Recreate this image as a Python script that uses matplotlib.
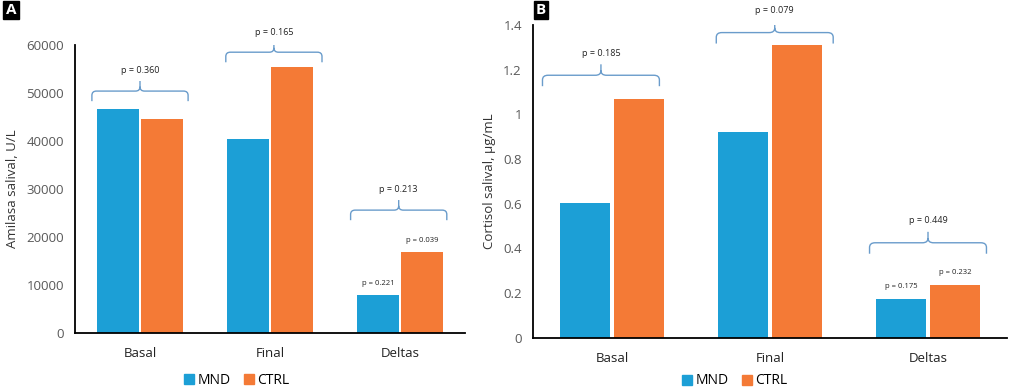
import numpy as np
import matplotlib
matplotlib.use("Agg")
import matplotlib.pyplot as plt
from matplotlib.path import Path
from matplotlib.patches import PathPatch
from matplotlib.lines import Line2D

plt.rcParams['font.family'] = ['Open Sans', 'DejaVu Sans']

# data
categories = ["Basal", "Final", "Deltas"]
series = ["MND", "CTRL"]

amilasa_mnd = [46700, 40500, 7900]
amilasa_ctrl = [44500, 55500, 16800]
amilasa_group_p = ["p = 0.360", "p = 0.165", "p = 0.213"]
amilasa_group_y = [50400, 58500, 25600]
amilasa_delta_p = ["p = 0.221", "p = 0.039"]

cortisol_mnd = [0.605, 0.92, 0.175]
cortisol_ctrl = [1.07, 1.31, 0.235]
cortisol_group_p = ["p = 0.185", "p = 0.079", "p = 0.449"]
cortisol_group_y = [1.175, 1.366, 0.425]
cortisol_delta_p = ["p = 0.175", "p = 0.232"]

blue = "#1c9fd6"
orange = "#f47a36"
brace_col = "#6a9ccb"
grey = "#595959"


def brace(ax, xc, hw, yh, yrange):
    # curly bracket over a group of bars
    dend = 0.035 * yrange
    dtip = 0.035 * yrange
    r = 0.015 * yrange
    rx = 0.035
    x0, x1 = xc - hw, xc + hw
    verts = [(x0, yh - dend), (x0, yh - r), (x0, yh), (x0 + rx, yh),
             (xc - rx, yh), (xc, yh), (xc, yh + r), (xc, yh + dtip),
             (xc, yh + r), (xc, yh), (xc + rx, yh),
             (x1 - rx, yh), (x1, yh), (x1, yh - r), (x1, yh - dend)]
    codes = [Path.MOVETO, Path.LINETO, Path.CURVE3, Path.CURVE3,
             Path.LINETO, Path.CURVE3, Path.CURVE3, Path.LINETO,
             Path.MOVETO, Path.CURVE3, Path.CURVE3,
             Path.LINETO, Path.CURVE3, Path.CURVE3, Path.LINETO]
    ax.add_patch(PathPatch(Path(verts, codes), fill=False, ec=brace_col, lw=1.0))


def panel(ax, mnd, ctrl, ymax, step, ylabel, group_p, group_y, delta_p, fmt, offs):
    x = np.arange(len(categories))
    w = 0.32
    ax.bar(x - w / 2 - 0.01, mnd, w, color=blue)
    ax.bar(x + w / 2 + 0.01, ctrl, w, color=orange)
    ax.set_xlim(-0.5, 2.5)
    ax.set_ylim(0, ymax)
    ticks = np.arange(0, ymax + step / 2, step)
    ax.set_yticks(ticks)
    ax.set_yticklabels([fmt(t) for t in ticks], color=grey, fontsize=9.5)
    ax.set_xticks(x)
    ax.set_xticklabels(categories, fontsize=9.5, color="#222222")
    ax.tick_params(length=0, pad=8)
    ax.tick_params(axis='x', pad=10)
    for s in ["top", "right"]:
        ax.spines[s].set_visible(False)
    ax.spines["left"].set_linewidth(1.3)
    ax.spines["bottom"].set_linewidth(1.3)
    ax.set_ylabel(ylabel, fontsize=9.5, color="#333333", labelpad=5)
    for i in range(3):
        xc = i + offs[i]
        brace(ax, xc, 0.37, group_y[i], ymax)
        ax.text(xc, group_y[i] + 0.07 * ymax, group_p[i], ha="center", va="center",
                fontsize=6.5, color="#222222")
    ax.text(2 - w / 2 - 0.01, mnd[2] + 0.04 * ymax, delta_p[0], ha="center",
            va="center", fontsize=5.5, color="#222222")
    ax.text(2 + w / 2 + 0.01, ctrl[2] + 0.04 * ymax, delta_p[1], ha="center",
            va="center", fontsize=5.5, color="#222222")


fig = plt.figure(figsize=(10.27, 3.9), dpi=100)
axA = fig.add_axes([75 / 1027, 1 - 333 / 390, 390 / 1027, 288 / 390])
axB = fig.add_axes([533 / 1027, 1 - 337.7 / 390, 474 / 1027, 312.7 / 390])

panel(axA, amilasa_mnd, amilasa_ctrl, 60000, 10000, "Amilasa salival, U/L",
      amilasa_group_p, amilasa_group_y, amilasa_delta_p, lambda t: "%d" % t,
      [0.0, 0.03, -0.01])
panel(axB, cortisol_mnd, cortisol_ctrl, 1.4, 0.2, "Cortisol salival, µg/mL",
      cortisol_group_p, cortisol_group_y, cortisol_delta_p,
      lambda t: ("%g" % round(t, 1)), [-0.07, 0.03, 0.0])

handles = [Line2D([], [], ls="", marker="s", ms=7, color=blue),
           Line2D([], [], ls="", marker="s", ms=7, color=orange)]
for cx, cy in [(236, 380), (734, 381)]:
    fig.legend(handles, series, loc="center", bbox_to_anchor=(cx / 1027, 1 - cy / 390),
               ncol=2, frameon=False, fontsize=10, handletextpad=0.1,
               columnspacing=0.8, handlelength=1.0)

for lx, ly, lab in [(11, 10, "A"), (541, 10, "B")]:
    fig.text(lx / 1027, 1 - ly / 390, lab, ha="center", va="center", fontsize=11,
             fontweight="bold", color="white",
             bbox=dict(boxstyle="square,pad=0.15", fc="black", ec="black"))

fig.savefig("out.png", dpi=100)
